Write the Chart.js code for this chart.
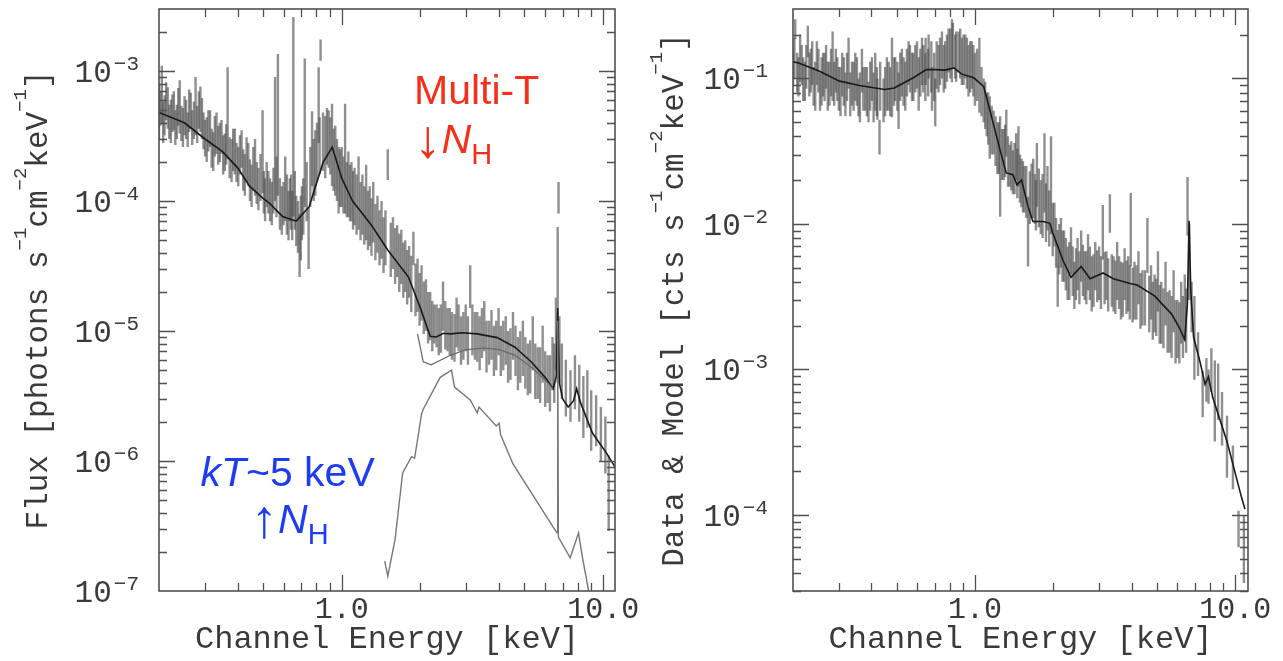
<!DOCTYPE html>
<html>
<head>
<meta charset="utf-8">
<title>X-ray spectra</title>
<script src="https://cdn.jsdelivr.net/npm/chart.js@4.4.1/dist/chart.umd.min.js"></script>
<style>
  html, body { margin: 0; padding: 0; background: #fff; }
  #left { position: absolute; left: 0; top: 0; }
  #right { position: absolute; left: 640px; top: 0; }
</style>
</head>
<body>
<canvas id="left" width="640" height="661"></canvas>
<canvas id="right" width="643" height="661"></canvas>
<script>
// ---- left panel: unfolded flux spectrum (photons s-1 cm-2 keV-1) ----
const fluxEnergy = [
  0.200, 0.205, 0.210, 0.216, 0.222, 0.228, 0.234, 0.240,
  0.247, 0.254, 0.261, 0.268, 0.276, 0.284, 0.292, 0.300,
  0.309, 0.318, 0.327, 0.337, 0.347, 0.357, 0.366, 0.379,
  0.390, 0.402, 0.414, 0.426, 0.439, 0.452, 0.466, 0.480,
  0.498, 0.509, 0.524, 0.540, 0.556, 0.570, 0.590, 0.608,
  0.626, 0.640, 0.653, 0.670, 0.690, 0.704, 0.722, 0.747,
  0.770, 0.792, 0.816, 0.830, 0.865, 0.891, 0.918, 0.945,
  0.973,
  1.00, 1.03, 1.06, 1.09, 1.12, 1.16, 1.20, 1.24,
  1.28, 1.32, 1.37, 1.42, 1.47, 1.50, 1.57, 1.63,
  1.69, 1.75, 1.81, 1.88, 1.95, 2.02, 2.10, 2.18,
  2.26, 2.35, 2.44, 2.54, 2.64, 2.75, 2.86, 2.98,
  3.10, 3.23, 3.37, 3.51, 3.66, 3.82, 3.98, 4.15,
  4.33, 4.52, 4.72, 4.93, 5.15, 5.38, 5.62, 5.87,
  6.13, 6.40, 6.60, 6.70, 6.75, 6.80, 6.95, 7.20,
  7.50, 7.80, 8.10, 8.40, 8.70, 9.00, 9.40, 9.80,
  10.20, 10.50
];
const fluxLo = [
  3.0e-4, 4.0e-4, 3.2e-4, 3.6e-4, 2.8e-4, 3.5e-4, 3.0e-4, 3.3e-4,
  2.6e-4, 3.0e-4, 3.4e-4, 2.7e-4, 3.2e-4, 3.6e-4, 3.0e-4, 2.2e-4,
  2.4e-4, 1.8e-4, 2.2e-4, 1.9e-4, 2.3e-4, 1.7e-4, 2.1e-4, 1.4e-4,
  1.6e-4, 1.3e-4, 1.8e-4, 1.1e-4, 1.3e-4, 9.0e-5, 1.1e-4, 8.5e-5,
  1.15e-4, 7.0e-5, 8.0e-5, 6.5e-5, 1.0e-4, 1.1e-4, 5.5e-5, 7.0e-5,
  5.0e-5, 6.0e-5, 7.6e-5, 4.5e-5, 2.6e-5, 5.0e-5, 9.0e-5, 3.0e-5,
  1.3e-4, 1.1e-4, 2.8e-4, 1.2e-3, 1.5e-4, 1.8e-4, 1.3e-4, 1.1e-4,
  8.0e-5,
  9.0e-5, 8.0e-5, 7.5e-5, 7.0e-5, 6.5e-5, 6.0e-5, 5.5e-5, 5.0e-5,
  4.5e-5, 4.8e-5, 4.0e-5, 3.6e-5, 3.2e-5, 1.45e-4, 3.0e-5, 2.6e-5,
  2.3e-5, 2.0e-5, 1.8e-5, 3.2e-5, 1.4e-5, 1.2e-5, 1.0e-5, 8.5e-6,
  8.0e-6, 6.5e-6, 1.0e-5, 7.0e-6, 6.0e-6, 7.5e-6, 5.5e-6, 7.0e-6,
  1.5e-5, 6.0e-6, 5.0e-6, 7.0e-6, 5.5e-6, 4.5e-6, 6.5e-6, 5.0e-6,
  4.0e-6, 6.0e-6, 3.5e-6, 4.5e-6, 3.2e-6, 5.0e-6, 3.0e-6, 4.0e-6,
  2.8e-6, 3.5e-6, 5.0e-6, 4.0e-6, 8.0e-5, 4.0e-6, 3.0e-6, 2.2e-6,
  2.0e-6, 2.5e-6, 2.0e-6, 1.5e-6, 1.8e-6, 1.2e-6, 1.3e-6, 1.0e-6,
  8.0e-7, 2.9e-7
];
const fluxHi = [
  8.0e-4, 1.1e-3, 6.5e-4, 7.5e-4, 6.0e-4, 7.0e-4, 5.5e-4, 8.5e-4,
  5.2e-4, 6.0e-4, 7.2e-4, 5.0e-4, 9.0e-4, 7.0e-4, 6.2e-4, 4.2e-4,
  5.0e-4, 3.6e-4, 4.5e-4, 3.8e-4, 4.2e-4, 3.3e-4, 1.07e-3, 3.0e-4,
  3.6e-4, 2.6e-4, 3.5e-4, 2.3e-4, 2.8e-4, 1.9e-4, 3.0e-4, 1.8e-4,
  5.0e-4, 1.5e-4, 1.7e-4, 1.4e-4, 9.0e-4, 1.35e-3, 1.3e-4, 2.2e-4,
  1.2e-4, 1.6e-4, 2.6e-3, 1.1e-4, 8.0e-5, 1.3e-4, 1.25e-3, 9.0e-5,
  4.9e-4, 3.5e-4, 1.07e-3, 1.75e-3, 4.5e-4, 5.0e-4, 5.6e-4, 3.8e-4,
  2.6e-4,
  2.6e-4, 5.6e-4, 2.4e-4, 2.0e-4, 1.8e-4, 2.2e-4, 1.6e-4, 1.9e-4,
  1.3e-4, 1.4e-4, 1.1e-4, 1.0e-4, 8.5e-5, 2.5e-4, 7.5e-5, 6.5e-5,
  6.0e-5, 5.0e-5, 4.5e-5, 5.8e-5, 3.6e-5, 3.2e-5, 2.5e-5, 2.0e-5,
  1.6e-5, 1.5e-5, 2.4e-5, 1.5e-5, 1.4e-5, 1.8e-5, 1.3e-5, 1.6e-5,
  3.2e-5, 1.4e-5, 1.3e-5, 1.7e-5, 1.2e-5, 1.1e-5, 1.5e-5, 1.2e-5,
  1.0e-5, 1.4e-5, 9.0e-6, 1.2e-5, 8.0e-6, 1.3e-5, 7.5e-6, 1.1e-5,
  6.5e-6, 9.0e-6, 1.8e-5, 6.3e-5, 1.4e-4, 1.3e-5, 8.0e-6, 6.0e-6,
  5.0e-6, 6.5e-6, 5.5e-6, 4.5e-6, 5.0e-6, 3.5e-6, 3.2e-6, 2.6e-6,
  2.2e-6, 1.1e-6
];

// interleaved channels between the ones above
const fluxEnergy2 = [
  0.2025, 0.2075, 0.213, 0.219, 0.225, 0.231, 0.237, 0.2435,
  0.2505, 0.2575, 0.2645, 0.272, 0.280, 0.288, 0.296, 0.3045,
  0.3135, 0.3225, 0.332, 0.342, 0.352, 0.3615, 0.3725, 0.3845,
  0.396, 0.408, 0.420, 0.4325, 0.4455, 0.459, 0.473, 0.489,
  0.5035, 0.5165, 0.532, 0.548, 0.563, 0.580, 0.599, 0.617,
  0.633, 0.6465, 0.6615, 0.680, 0.697, 0.713, 0.7345, 0.7585,
  0.781, 0.804, 0.823, 0.8475, 0.878, 0.9045, 0.9315, 0.959,
  0.9865,
  1.015, 1.045, 1.075, 1.105, 1.14, 1.18, 1.22, 1.26,
  1.30, 1.345, 1.395, 1.445, 1.54, 1.60, 1.66, 1.72,
  1.78, 1.845, 1.915, 1.985, 2.06, 2.14, 2.22, 2.305,
  2.395, 2.49,
  2.59, 2.70, 2.80, 2.92, 3.04, 3.16, 3.30, 3.44,
  3.58, 3.74, 3.90, 4.06, 4.24, 4.42, 4.62, 4.82,
  5.04, 5.26, 5.50, 5.74, 6.00, 6.26, 6.50
];
const fluxLo2 = [
  3.8e-4, 2.8e-4, 4.2e-4, 3.0e-4, 3.4e-4, 2.7e-4, 3.8e-4, 2.9e-4,
  3.2e-4, 2.6e-4, 3.6e-4, 3.0e-4, 2.8e-4, 3.4e-4, 2.5e-4, 2.0e-4,
  2.6e-4, 1.7e-4, 2.3e-4, 2.0e-4, 1.6e-4, 1.9e-4, 1.5e-4, 1.7e-4,
  1.4e-4, 1.6e-4, 1.2e-4, 1.4e-4, 1.0e-4, 1.2e-4, 9.5e-5, 1.0e-4,
  8.0e-5, 9.0e-5, 7.0e-5, 8.0e-5, 7.5e-5, 6.0e-5, 6.5e-5, 5.5e-5,
  7.0e-5, 5.0e-5, 6.0e-5, 4.0e-5, 3.5e-5, 5.5e-5, 7.0e-5, 9.0e-5,
  1.0e-4, 1.4e-4, 1.6e-4, 1.7e-4, 1.9e-4, 1.6e-4, 1.2e-4, 1.0e-4,
  9.0e-5,
  8.0e-5, 7.5e-5, 7.0e-5, 6.0e-5, 5.5e-5, 5.0e-5, 4.6e-5, 4.2e-5,
  3.8e-5, 3.5e-5, 3.2e-5, 2.8e-5, 2.6e-5, 2.3e-5, 2.0e-5, 1.8e-5,
  1.6e-5, 1.4e-5, 1.3e-5, 1.1e-5, 9.5e-6, 8.0e-6, 7.0e-6, 7.5e-6,
  6.8e-6, 7.2e-6,
  6.5e-6, 5.8e-6, 7.0e-6, 6.0e-6, 5.5e-6, 6.5e-6, 5.8e-6, 6.2e-6,
  4.8e-6, 6.0e-6, 5.0e-6, 4.5e-6, 5.5e-6, 4.2e-6, 4.5e-6, 4.0e-6,
  3.6e-6, 3.3e-6, 3.0e-6, 2.8e-6, 2.6e-6, 2.4e-6, 2.8e-6
];
const fluxHi2 = [
  7.0e-4, 5.8e-4, 8.2e-4, 5.5e-4, 6.6e-4, 5.0e-4, 7.4e-4, 5.4e-4,
  6.4e-4, 4.8e-4, 6.8e-4, 5.8e-4, 5.4e-4, 7.6e-4, 4.8e-4, 4.4e-4,
  5.0e-4, 3.4e-4, 4.8e-4, 4.0e-4, 3.2e-4, 3.9e-4, 3.1e-4, 3.6e-4,
  2.8e-4, 3.2e-4, 2.5e-4, 3.1e-4, 2.1e-4, 2.6e-4, 2.0e-4, 2.3e-4,
  1.7e-4, 2.0e-4, 1.5e-4, 1.8e-4, 2.2e-4, 1.5e-4, 1.4e-4, 1.6e-4,
  1.5e-4, 1.2e-4, 1.7e-4, 1.0e-4, 1.1e-4, 1.5e-4, 2.0e-4, 2.6e-4,
  3.0e-4, 4.0e-4, 4.4e-4, 4.8e-4, 5.2e-4, 4.4e-4, 3.6e-4, 3.0e-4,
  2.5e-4,
  2.2e-4, 2.0e-4, 1.9e-4, 1.7e-4, 1.6e-4, 1.4e-4, 1.3e-4, 1.2e-4,
  1.05e-4, 9.5e-5, 8.5e-5, 7.5e-5, 6.8e-5, 6.2e-5, 5.6e-5, 4.8e-5,
  4.2e-5, 3.8e-5, 3.3e-5, 2.8e-5, 2.4e-5, 2.0e-5, 1.7e-5, 1.6e-5,
  1.6e-5, 1.7e-5,
  1.5e-5, 1.35e-5, 1.6e-5, 1.4e-5, 1.3e-5, 1.6e-5, 1.4e-5, 1.5e-5,
  1.2e-5, 1.45e-5, 1.2e-5, 1.1e-5, 1.3e-5, 1.05e-5, 1.1e-5, 1.0e-5,
  9.0e-6, 8.5e-6, 8.0e-6, 7.5e-6, 7.0e-6, 6.5e-6, 8.0e-6
];

// total model (multi-T, low NH)
const fluxModelEnergy = [
  0.2, 0.25, 0.3, 0.35, 0.4, 0.444, 0.5, 0.53, 0.594, 0.67,
  0.75, 0.85, 0.92, 1.0, 1.1, 1.3, 1.5, 1.8, 2.0, 2.18,
  2.3, 2.45, 2.6, 2.9, 3.3, 3.93, 4.6, 5.3, 6.0, 6.44,
  6.62, 6.70, 6.80, 7.0, 7.35, 7.7, 7.92, 8.2, 9.1, 10.3, 11.1
];
const fluxModel = [
  4.8e-4, 4.0e-4, 3.0e-4, 2.4e-4, 1.8e-4, 1.3e-4, 1.05e-4, 9.6e-5, 7.6e-5, 7.0e-5,
  9.0e-5, 2.0e-4, 2.6e-4, 1.5e-4, 1.0e-4, 6.5e-5, 4.2e-5, 2.6e-5, 1.5e-5, 9.1e-6,
  9.0e-6, 9.6e-6, 9.5e-6, 9.7e-6, 9.5e-6, 8.9e-6, 7.5e-6, 5.8e-6, 4.4e-6, 3.6e-6,
  4.5e-6, 1.5e-5, 4.0e-6, 3.0e-6, 2.6e-6, 2.9e-6, 3.6e-6, 2.8e-6, 1.64e-6, 1.15e-6, 9.0e-7
];

// second smooth component under the total, 2-6.5 keV
const warmEnergy = [1.95, 2.05, 2.2, 2.6, 3.0, 3.5, 4.0, 4.6, 5.3, 6.0, 6.44];
const warmModel = [9.5e-6, 5.8e-6, 5.5e-6, 6.5e-6, 7.2e-6, 7.4e-6, 7.2e-6, 6.5e-6, 5.3e-6, 4.2e-6, 3.6e-6];

// kT~5 keV, high NH component
const hotEnergy = [
  1.46, 1.50, 1.60, 1.71, 1.85, 1.90, 2.02, 2.05, 2.38, 2.63,
  2.70, 3.1, 3.3, 3.35, 3.9, 4.0, 4.05, 4.52, 6.44, 6.66,
  6.70, 6.74, 7.48, 8.05, 8.3, 8.8, 9.0
];
const hotModel = [
  1.7e-7, 1.3e-7, 2.5e-7, 8.1e-7, 1.08e-6, 1.05e-6, 2.3e-6, 2.5e-6, 4.4e-6, 5.0e-6,
  3.7e-6, 2.95e-6, 2.34e-6, 2.6e-6, 1.86e-6, 1.95e-6, 1.6e-6, 9.5e-7, 3.1e-7, 2.8e-7,
  1.2e-5, 2.6e-7, 1.8e-7, 2.8e-7, 1.9e-7, 1.0e-7, 8.0e-8
];

// ---- right panel: folded counts spectrum (cts s-1 cm-2 keV-1) ----
const countEnergy = [
  0.200, 0.204, 0.210, 0.216, 0.222, 0.228, 0.234, 0.240,
  0.247, 0.254, 0.261, 0.268, 0.276, 0.284, 0.292, 0.300,
  0.309, 0.318, 0.327, 0.337, 0.347, 0.357, 0.368, 0.379,
  0.390, 0.402, 0.414, 0.422, 0.430, 0.452, 0.466, 0.480,
  0.494, 0.509, 0.524, 0.540, 0.556, 0.573, 0.590, 0.608,
  0.626, 0.645, 0.664, 0.684, 0.704, 0.725, 0.747, 0.769,
  0.792, 0.816, 0.840, 0.865, 0.891, 0.918, 0.945, 0.973,
  1.00, 1.04, 1.08, 1.11, 1.14, 1.18, 1.22, 1.25,
  1.29, 1.32, 1.36, 1.40, 1.44, 1.47, 1.51, 1.55,
  1.60, 1.65, 1.70, 1.73, 1.79, 1.85, 1.90, 1.96,
  2.02, 2.08, 2.14, 2.20, 2.27, 2.34, 2.41, 2.48,
  2.56, 2.64, 2.72, 2.81, 2.90, 3.00, 3.10, 3.20,
  3.30, 3.41, 3.52, 3.64, 3.76, 3.88, 3.97, 4.10,
  4.25, 4.40, 4.60, 4.75, 4.90, 5.05, 5.20, 5.40,
  5.60, 5.80, 6.00, 6.20, 6.40, 6.56, 6.66, 6.80,
  6.97, 7.20, 7.50, 7.75, 7.90, 8.10, 8.35, 8.60,
  8.90, 9.30, 9.80, 10.30, 10.80
];
const countLo = [
  0.088, 0.186, 0.075, 0.09, 0.07, 0.14, 0.08, 0.065,
  0.09, 0.06, 0.075, 0.085, 0.065, 0.07, 0.08, 0.06,
  0.075, 0.055, 0.085, 0.065, 0.07, 0.055, 0.08, 0.06,
  0.05, 0.07, 0.06, 0.052, 0.030, 0.055, 0.06, 0.054,
  0.07, 0.045, 0.075, 0.06, 0.09, 0.07, 0.08, 0.06,
  0.09, 0.07, 0.1, 0.06, 0.047, 0.08, 0.1, 0.085,
  0.11, 0.094, 0.1, 0.11, 0.09, 0.1, 0.075, 0.085,
  0.065, 0.058, 0.05, 0.04, 0.028, 0.03, 0.022, 0.0112,
  0.02, 0.029, 0.018, 0.016, 0.02, 0.018, 0.013, 0.012,
  0.0051, 0.011, 0.01, 0.0131, 0.0085, 0.012, 0.009, 0.0085,
  0.007, 0.0027, 0.005, 0.004, 0.003, 0.0045, 0.0026, 0.0035,
  0.004, 0.003, 0.0035, 0.0025, 0.0035, 0.003, 0.0057, 0.003,
  0.0087, 0.0025, 0.003, 0.0022, 0.003, 0.0025, 0.0051, 0.0022,
  0.0028, 0.002, 0.0046, 0.0022, 0.0018, 0.0025, 0.0015, 0.002,
  0.0013, 0.0018, 0.0012, 0.0015, 0.0016, 0.0083, 0.003, 0.0018,
  0.00085, 0.0009, 0.00047, 0.0006, 0.00058, 0.0007, 0.00032, 0.00045,
  0.0003, 0.00018, 0.00015, 0.00006, 0.000034
];
const countHi = [
  0.158, 0.255, 0.14, 0.17, 0.13, 0.23, 0.16, 0.12,
  0.18, 0.11, 0.15, 0.17, 0.13, 0.21, 0.16, 0.12,
  0.15, 0.11, 0.19, 0.13, 0.15, 0.10, 0.16, 0.12,
  0.095, 0.14, 0.15, 0.10, 0.052, 0.12, 0.13, 0.19,
  0.14, 0.11, 0.16, 0.13, 0.18, 0.15, 0.17, 0.14,
  0.19, 0.15, 0.20, 0.12, 0.10, 0.17, 0.21, 0.18,
  0.22, 0.255, 0.20, 0.21, 0.19, 0.20, 0.17, 0.18,
  0.15, 0.19, 0.1, 0.08, 0.075, 0.06, 0.05, 0.055,
  0.045, 0.061, 0.035, 0.032, 0.042, 0.047, 0.028, 0.025,
  0.0154, 0.026, 0.022, 0.036, 0.02, 0.042, 0.025, 0.04,
  0.014, 0.0091, 0.011, 0.009, 0.007, 0.0095, 0.0055, 0.008,
  0.009, 0.0065, 0.0085, 0.006, 0.0075, 0.007, 0.0135, 0.0065,
  0.016, 0.006, 0.0075, 0.0055, 0.0068, 0.006, 0.0163, 0.0055,
  0.0065, 0.0048, 0.011, 0.0052, 0.0045, 0.0065, 0.004, 0.0055,
  0.0035, 0.0048, 0.003, 0.004, 0.0045, 0.021, 0.01, 0.004,
  0.0032, 0.0018, 0.00098, 0.0012, 0.001, 0.0014, 0.00115, 0.0011,
  0.0007, 0.00048, 0.0003, 0.000107, 0.0001
];

// interleaved channels between the ones above
const countEnergy2 = [
  0.2025, 0.2075, 0.213, 0.219, 0.225, 0.231, 0.237, 0.2435,
  0.2505, 0.2575, 0.2645, 0.272, 0.280, 0.288, 0.296, 0.3045,
  0.3135, 0.3225, 0.332, 0.342, 0.352, 0.3615, 0.3725, 0.3845,
  0.396, 0.408, 0.420, 0.4325, 0.4455, 0.459, 0.473, 0.489,
  0.5035, 0.5165, 0.532, 0.548, 0.563, 0.580, 0.599, 0.617,
  0.633, 0.6465, 0.6615, 0.680, 0.697, 0.713, 0.7345, 0.7585,
  0.781, 0.804, 0.823, 0.8475, 0.878, 0.9045, 0.9315, 0.959,
  0.9865,
  1.02, 1.06, 1.095, 1.125, 1.16, 1.20, 1.235, 1.27,
  1.305, 1.34, 1.38, 1.42, 1.455, 1.49, 1.53, 1.575,
  1.625, 1.675, 1.715, 1.76, 1.82, 1.875, 1.93, 1.99,
  2.05, 2.11, 2.17, 2.235, 2.305, 2.375, 2.445, 2.52,
  2.60, 2.68, 2.765, 2.855, 2.95, 3.05, 3.15, 3.25,
  3.355, 3.465, 3.58, 3.70, 3.82, 3.935, 4.035, 4.175,
  4.325, 4.50, 4.675, 4.825, 4.975, 5.125, 5.30, 5.50,
  5.70, 5.90, 6.10, 6.30, 6.48
];
const countLo2 = [
  0.1, 0.08, 0.095, 0.07, 0.085, 0.075, 0.09, 0.06,
  0.08, 0.065, 0.07, 0.06, 0.075, 0.065, 0.07, 0.055,
  0.065, 0.07, 0.055, 0.06, 0.065, 0.05, 0.06, 0.055,
  0.06, 0.05, 0.055, 0.06, 0.05, 0.06, 0.055, 0.065,
  0.06, 0.07, 0.065, 0.075, 0.08, 0.07, 0.085, 0.075,
  0.08, 0.09, 0.075, 0.08, 0.07, 0.085, 0.09, 0.08,
  0.095, 0.1, 0.12, 0.095, 0.1, 0.09, 0.085, 0.08,
  0.075,
  0.07, 0.055, 0.045, 0.035, 0.03, 0.025, 0.022, 0.02,
  0.021, 0.018, 0.017, 0.016, 0.015, 0.014, 0.012, 0.011,
  0.01, 0.011, 0.009, 0.0095, 0.008, 0.0075, 0.007, 0.006,
  0.005, 0.0045, 0.004, 0.0035, 0.003, 0.0032, 0.003, 0.0028,
  0.0032, 0.0028, 0.003, 0.0027, 0.0029, 0.0026, 0.0028, 0.0025,
  0.0027, 0.0024, 0.0026, 0.0023, 0.0024, 0.0022, 0.0021, 0.0022,
  0.0019, 0.002, 0.0018, 0.0016, 0.0017, 0.0015, 0.0014, 0.0013,
  0.0012, 0.0011, 0.0011, 0.0012, 0.0013
];
const countHi2 = [
  0.19, 0.15, 0.2, 0.14, 0.17, 0.15, 0.18, 0.13,
  0.16, 0.14, 0.15, 0.13, 0.16, 0.13, 0.14, 0.12,
  0.14, 0.15, 0.11, 0.13, 0.14, 0.11, 0.12, 0.12,
  0.13, 0.11, 0.12, 0.13, 0.10, 0.14, 0.12, 0.14,
  0.13, 0.15, 0.14, 0.16, 0.17, 0.15, 0.18, 0.16,
  0.17, 0.19, 0.16, 0.18, 0.15, 0.18, 0.19, 0.17,
  0.20, 0.22, 0.24, 0.21, 0.22, 0.20, 0.19, 0.18,
  0.17,
  0.16, 0.12, 0.095, 0.08, 0.065, 0.055, 0.05, 0.045,
  0.048, 0.04, 0.037, 0.036, 0.033, 0.03, 0.027, 0.025,
  0.023, 0.028, 0.02, 0.024, 0.022, 0.019, 0.017, 0.014,
  0.011, 0.01, 0.009, 0.008, 0.0075, 0.007, 0.0068, 0.0065,
  0.0072, 0.0065, 0.007, 0.0062, 0.0066, 0.006, 0.0064, 0.0058,
  0.0062, 0.0056, 0.006, 0.0054, 0.0056, 0.0052, 0.005, 0.0052,
  0.0046, 0.0048, 0.0044, 0.004, 0.0042, 0.0038, 0.0036, 0.0034,
  0.0032, 0.003, 0.0029, 0.0032, 0.0036
];

const countModelEnergy = [
  0.2, 0.209, 0.253, 0.302, 0.36, 0.45, 0.49, 0.58, 0.65, 0.71,
  0.767, 0.83, 0.89, 0.99, 1.08, 1.14, 1.25, 1.32, 1.40, 1.45,
  1.51, 1.6, 1.67, 1.83, 1.94, 1.99, 2.18, 2.34, 2.56, 2.77,
  3.11, 3.4, 3.95, 4.2, 4.9, 5.7, 6.1, 6.4, 6.55, 6.65,
  6.75, 6.92, 7.35, 7.66, 7.89, 8.2, 9.3, 10.6, 10.9
];
const countModel = [
  0.13, 0.128, 0.112, 0.0958, 0.0895, 0.084, 0.086, 0.101, 0.115, 0.115,
  0.114, 0.118, 0.107, 0.101, 0.088, 0.061, 0.032, 0.0224, 0.0218, 0.0186,
  0.02, 0.0132, 0.0104, 0.0104, 0.0101, 0.0087, 0.0056, 0.0043, 0.0051, 0.0042,
  0.0046, 0.0042, 0.0039, 0.0038, 0.0032, 0.0024, 0.00194, 0.0016, 0.0028, 0.0105,
  0.0035, 0.00167, 0.0011, 0.00079, 0.00089, 0.00064, 0.00032, 0.00013, 0.00011
];

// tick labels
const energyTicks = [1, 10];
const fluxTicks = [1e-7, 1e-6, 1e-5, 1e-4, 1e-3];
const countTicks = [1e-4, 1e-3, 1e-2, 1e-1];

// axis titles, [text, superscript?]
const fluxTitle = [['Flux [photons s'], ['−1', 1], ['cm'], ['−2', 1], ['keV'], ['−1', 1], [']']];
const countTitle = [['Data & Model [cts s'], ['−1', 1], ['cm'], ['−2', 1], ['keV'], ['−1', 1], [']']];

const INK = '#3a3a3a';
const MONO = '"Liberation Mono", "DejaVu Sans Mono", monospace';

// error bars as one broken line: lo -> hi, then a gap
function errorBars(xs, lo, hi) {
  const pts = [];
  xs.forEach((x, i) => {
    pts.push({ x, y: lo[i] }, { x, y: hi[i] }, { x, y: null });
  });
  return pts;
}
const curve = (xs, ys) => xs.map((x, i) => ({ x, y: ys[i] }));

// box + inward PGPLOT-style ticks on all four sides
const frame = {
  id: 'frame',
  afterDraw(chart) {
    const { ctx, chartArea: a } = chart;
    const { x, y } = chart.scales;
    ctx.save();
    ctx.strokeStyle = '#505050';
    ctx.lineWidth = 1.6;
    ctx.strokeRect(a.left, a.top, a.right - a.left, a.bottom - a.top);
    ctx.lineWidth = 1.3;
    ctx.beginPath();
    for (let d = -8; d <= 2; d++) {
      for (let m = 1; m < 10; m++) {
        const v = m * Math.pow(10, d);
        const len = m === 1 ? 16 : 8;
        if (v > x.min && v < x.max) {
          const px = Math.round(x.getPixelForValue(v)) + 0.5;
          ctx.moveTo(px, a.bottom); ctx.lineTo(px, a.bottom - len);
          ctx.moveTo(px, a.top); ctx.lineTo(px, a.top + len);
        }
        if (v > y.min && v < y.max) {
          const py = Math.round(y.getPixelForValue(v)) + 0.5;
          ctx.moveTo(a.left, py); ctx.lineTo(a.left + len, py);
          ctx.moveTo(a.right, py); ctx.lineTo(a.right - len, py);
        }
      }
    }
    ctx.stroke();
    ctx.restore();
  }
};

// y tick labels 10^n and the rotated y title, with raised exponents
function yAxisText(ticks, title, gap, baseX) {
  return {
    id: 'yAxisText',
    afterDraw(chart) {
      const { ctx, chartArea: a } = chart;
      const y = chart.scales.y;
      ctx.save();
      ctx.fillStyle = INK;
      ctx.textAlign = 'left';
      ctx.textBaseline = 'alphabetic';
      ticks.forEach(v => {
        const py = y.getPixelForValue(v);
        const exp = '−' + Math.abs(Math.round(Math.log10(v)));
        ctx.font = '21px ' + MONO;
        const we = ctx.measureText(exp).width;
        ctx.font = '31px ' + MONO;
        const wb = ctx.measureText('10').width;
        const x0 = a.left - gap - we - 2 - wb;
        ctx.fillText('10', x0, py + 11);
        ctx.font = '21px ' + MONO;
        ctx.fillText(exp, x0 + wb + 2, py - 1);
      });
      const parts = title.map(([text, up]) => ({ text, up, font: (up ? '19px ' : '31px ') + MONO }));
      let w = 0;
      parts.forEach(p => { ctx.font = p.font; p.w = ctx.measureText(p.text).width; w += p.w; });
      ctx.translate(baseX, (a.top + a.bottom) / 2);
      ctx.rotate(-Math.PI / 2);
      let x = -w / 2;
      parts.forEach(p => {
        ctx.font = p.font;
        ctx.fillText(p.text, x, p.up ? -21 : 0);
        x += p.w;
      });
      ctx.restore();
    }
  };
}

function drawRun(ctx, parts, x, y) {
  parts.forEach(p => {
    ctx.font = p.font;
    ctx.fillText(p.text, x, y + (p.dy || 0));
    x += ctx.measureText(p.text).width;
  });
}

const SANS = '"Liberation Sans", Arial, sans-serif';
const notes = {
  id: 'notes',
  afterDraw(chart) {
    const { ctx } = chart;
    const { x, y } = chart.scales;
    ctx.save();
    ctx.textAlign = 'left';
    ctx.textBaseline = 'alphabetic';
    ctx.fillStyle = '#f5301a';
    drawRun(ctx, [{ text: 'Multi-T', font: '41px ' + SANS }],
      x.getPixelForValue(1.89), y.getPixelForValue(5.57e-4));
    drawRun(ctx, [
      { text: '↓', font: '54px ' + SANS, dy: 4 },
      { text: 'N', font: 'italic 41px ' + SANS },
      { text: 'H', font: '29px ' + SANS, dy: 11 }
    ], x.getPixelForValue(1.90), y.getPixelForValue(2.34e-4));
    ctx.fillStyle = '#1d3df5';
    drawRun(ctx, [
      { text: 'kT', font: 'italic 41px ' + SANS },
      { text: '~5 keV', font: '41px ' + SANS }
    ], x.getPixelForValue(0.288), y.getPixelForValue(6.43e-7));
    drawRun(ctx, [
      { text: '↑', font: '54px ' + SANS, dy: 4 },
      { text: 'N', font: 'italic 41px ' + SANS },
      { text: 'H', font: '29px ' + SANS, dy: 11 }
    ], x.getPixelForValue(0.45), y.getPixelForValue(2.79e-7));
    ctx.restore();
  }
};

Chart.defaults.font.family = MONO;
Chart.defaults.color = INK;

function spectrumChart(canvas, cfg) {
  return new Chart(canvas, {
    type: 'line',
    data: { datasets: cfg.datasets },
    plugins: cfg.plugins,
    options: {
      responsive: false,
      animation: false,
      events: [],
      layout: { padding: { top: 9, right: cfg.padRight, left: 0, bottom: 0 } },
      plugins: { legend: { display: false }, tooltip: { enabled: false } },
      elements: { point: { radius: 0 }, line: { tension: 0, borderCapStyle: 'butt' } },
      scales: {
        x: {
          type: 'logarithmic',
          min: 0.2,
          max: cfg.xMax,
          afterBuildTicks: s => { s.ticks = energyTicks.map(value => ({ value })); },
          afterFit: s => { s.height = 70; s.paddingLeft = 0; s.paddingRight = 0; },
          grid: { display: false, drawTicks: false },
          border: { display: false },
          ticks: { autoSkip: false, maxRotation: 0, padding: 1, font: { size: 30 },
                   callback: v => v.toFixed(1) },
          title: { display: true, text: 'Channel Energy [keV]', font: { size: 32 },
                   padding: { top: 0, bottom: 2 } }
        },
        y: {
          type: 'logarithmic',
          min: cfg.yMin,
          max: cfg.yMax,
          afterBuildTicks: s => { s.ticks = cfg.yTicks.map(value => ({ value })); },
          afterFit: s => { s.width = cfg.axisWidth; s.paddingTop = 0; s.paddingBottom = 0; },
          grid: { display: false, drawTicks: false },
          border: { display: false },
          ticks: { display: false },
          title: { display: false }
        }
      }
    }
  });
}

const barStyle = { borderColor: 'rgba(75,75,75,0.62)', borderWidth: 2.4, spanGaps: false };

spectrumChart(document.getElementById('left'), {
  padRight: 25,
  xMax: 11.1,
  yMin: 1e-7,
  yMax: 3e-3,
  yTicks: fluxTicks,
  axisWidth: 159,
  plugins: [frame, yAxisText(fluxTicks, fluxTitle, 20, 47), notes],
  datasets: [
    { data: curve(hotEnergy, hotModel), borderColor: '#777', borderWidth: 1.4 },
    { data: curve(warmEnergy, warmModel), borderColor: '#666', borderWidth: 1.2 },
    { data: curve(fluxModelEnergy, fluxModel), borderColor: '#1a1a1a', borderWidth: 1.6 },
    Object.assign({ data: errorBars(fluxEnergy, fluxLo, fluxHi) }, barStyle),
    Object.assign({ data: errorBars(fluxEnergy2, fluxLo2, fluxHi2) }, barStyle)
  ]
});

spectrumChart(document.getElementById('right'), {
  padRight: 35,
  xMax: 11.2,
  yMin: 3e-5,
  yMax: 0.3,
  yTicks: countTicks,
  axisWidth: 153,
  plugins: [frame, yAxisText(countTicks, countTitle, 25, 43)],
  datasets: [
    { data: curve(countModelEnergy, countModel), borderColor: '#1a1a1a', borderWidth: 1.6 },
    Object.assign({ data: errorBars(countEnergy, countLo, countHi) }, barStyle),
    Object.assign({ data: errorBars(countEnergy2, countLo2, countHi2) }, barStyle)
  ]
});
</script>
</body>
</html>
